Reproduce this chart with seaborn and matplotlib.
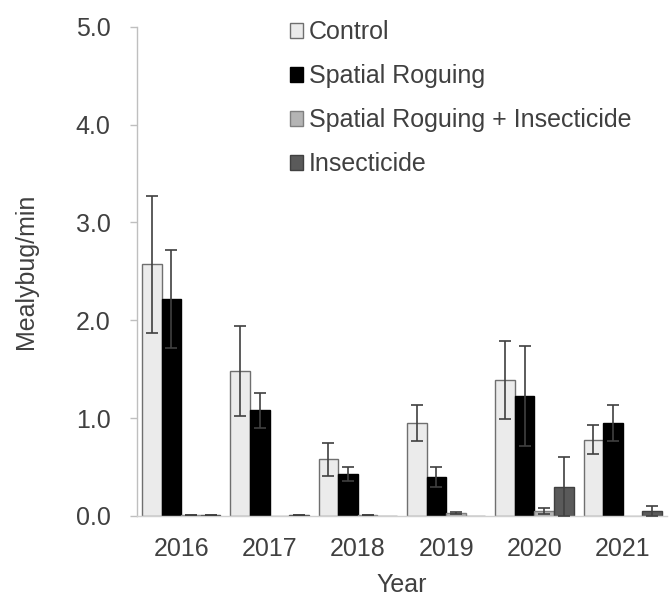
import numpy as np
import pandas as pd
import matplotlib
matplotlib.use("Agg")
import matplotlib.pyplot as plt
import seaborn as sns
from matplotlib.container import BarContainer

years = ["2016", "2017", "2018", "2019", "2020", "2021"]
treatments = ["Control", "Spatial Roguing", "Spatial Roguing + Insecticide", "Insecticide"]

control = [2.57, 1.48, 0.58, 0.95, 1.39, 0.78]
control_err = [0.70, 0.46, 0.17, 0.18, 0.40, 0.15]
spatial = [2.22, 1.08, 0.43, 0.40, 1.23, 0.95]
spatial_err = [0.50, 0.18, 0.07, 0.10, 0.51, 0.18]
sr_ins = [0.01, 0.0, 0.01, 0.03, 0.05, 0.0]
sr_ins_err = [0.005, np.nan, 0.005, 0.01, 0.03, np.nan]
insect = [0.01, 0.01, 0.0, 0.0, 0.30, 0.05]
insect_err = [0.005, 0.005, np.nan, np.nan, 0.30, 0.05]

values = [control, spatial, sr_ins, insect]
errors = [control_err, spatial_err, sr_ins_err, insect_err]

rows = []
for t, vals in zip(treatments, values):
    for y, v in zip(years, vals):
        rows.append({"Year": y, "Treatment": t, "Value": v})
df = pd.DataFrame(rows)

sns.set_theme(style="white")
plt.rcParams['font.family'] = ['Liberation Sans', 'DejaVu Sans']
text_color = "#404040"
fs = 18

fig = plt.figure(figsize=(6.7, 5.97), dpi=100)
ax = fig.add_axes([0.2045, 0.1357, 0.791, 0.8196])

fills = ["#EBEBEB", "#000000", "#B4B4B4", "#5A5A5A"]
edges = ["#6F6F6F", "#000000", "#7F7F7F", "#404040"]

sns.barplot(data=df, x="Year", y="Value", hue="Treatment", order=years,
            hue_order=treatments, palette=fills, errorbar=None, width=0.89,
            legend=False, ax=ax, linewidth=1.0, saturation=1)

bar_containers = [c for c in ax.containers if isinstance(c, BarContainer)]
for ci, cont in enumerate(bar_containers):
    for bi, bar in enumerate(cont.patches):
        bar.set_edgecolor(edges[ci])
        bar.set_linewidth(1.0)
        e = errors[ci][bi]
        if not np.isnan(e):
            xc = bar.get_x() + bar.get_width() / 2
            ax.errorbar(xc, bar.get_height(), yerr=e, fmt="none",
                        ecolor="#404040", elinewidth=1.2, capsize=4.3,
                        capthick=1.2, zorder=5)

ax.set_xlim(-0.5, 5.5)
ax.set_ylim(0, 5)
ax.set_yticks([0, 1, 2, 3, 4, 5])
ax.set_yticklabels([f"{v:.1f}" for v in [0, 1, 2, 3, 4, 5]])

for s in ["top", "right"]:
    ax.spines[s].set_visible(False)
ax.spines["left"].set_color("#BFBFBF")
ax.spines["bottom"].set_color("#D0D0D0")
ax.spines["left"].set_linewidth(1.0)
ax.spines["bottom"].set_linewidth(1.0)

ax.tick_params(axis="y", left=True, length=5, width=1.0, color="#BFBFBF",
               pad=14, labelsize=fs, labelcolor=text_color)
ax.tick_params(axis="x", bottom=False, length=0, pad=15, labelsize=fs,
               labelcolor=text_color)

ax.set_ylabel("Mealybug/min", fontsize=fs, color=text_color)
ax.yaxis.set_label_coords(-0.187, 0.5)
ax.set_xlabel("Year", fontsize=fs, color=text_color, labelpad=9)

leg = fig.legend(bar_containers, treatments, loc="upper left",
                 bbox_to_anchor=(0.433, 0.966), frameon=False, fontsize=fs,
                 handlelength=0.5, handleheight=0.5, handletextpad=0.25,
                 labelspacing=0.8, borderpad=0, borderaxespad=0)
for t in leg.get_texts():
    t.set_color(text_color)

fig.savefig("out.png", dpi=100)
